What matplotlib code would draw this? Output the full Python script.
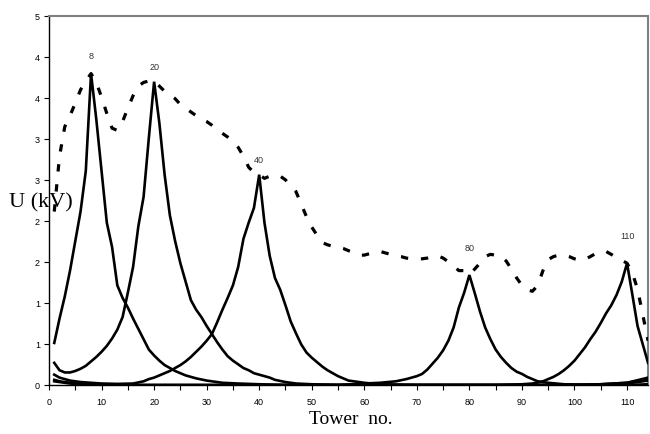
import numpy as np
import matplotlib
matplotlib.use("Agg")
import matplotlib.pyplot as plt
from matplotlib.ticker import FuncFormatter, MultipleLocator

# ---- data (tower number, voltage in kV) ----
a_t = [1, 2, 3, 4, 5, 6, 7, 8, 9, 10, 11, 12, 13, 14, 15, 16, 17, 18, 19, 20, 21, 22, 23, 24, 25, 26,
       28, 30, 33, 36, 40, 45, 60, 80, 100, 105, 110, 114]
a_v = [0.57, 0.9, 1.2, 1.55, 1.95, 2.35, 2.9, 4.22, 3.6, 2.9, 2.2, 1.87, 1.35, 1.18, 1.05, 0.9, 0.76,
       0.62, 0.48, 0.4, 0.33, 0.27, 0.23, 0.19, 0.16, 0.13, 0.09, 0.06, 0.03, 0.02, 0.01, 0.0, 0.0, 0.0,
       0.0, 0.01, 0.03, 0.08]

b_t = [1, 2, 3, 4, 5, 6, 7, 8, 9, 10, 11, 12, 13, 14, 15, 16, 17, 18, 19, 20, 21, 22, 23, 24, 25, 26,
       27, 28, 29, 30, 31, 32, 33, 34, 35, 36, 37, 38, 39, 40, 41, 42, 43, 45, 47, 50, 55, 80, 105,
       110, 114]
b_v = [0.3, 0.2, 0.17, 0.17, 0.19, 0.22, 0.26, 0.32, 0.38, 0.45, 0.53, 0.63, 0.75, 0.92, 1.25, 1.6,
       2.15, 2.55, 3.35, 4.11, 3.55, 2.85, 2.3, 1.95, 1.65, 1.4, 1.15, 1.02, 0.92, 0.8, 0.69, 0.58, 0.48,
       0.39, 0.33, 0.28, 0.23, 0.2, 0.16, 0.14, 0.12, 0.1, 0.07, 0.04, 0.02, 0.01, 0.0, 0.0, 0.0, 0.02,
       0.06]

c_t = [1, 2, 3, 4, 5, 6, 8, 10, 13, 16, 18, 19, 20, 21, 22, 23, 24, 25, 26, 27, 28, 29, 30, 31, 32, 33,
       34, 35, 36, 37, 38, 39, 40, 41, 42, 43, 44, 45, 46, 47, 48, 49, 50, 51, 52, 53, 54, 55, 56, 57,
       58, 60, 63, 70, 100, 105, 110, 114]
c_v = [0.14, 0.1, 0.08, 0.06, 0.05, 0.04, 0.03, 0.02, 0.015, 0.02, 0.05, 0.08, 0.1, 0.13, 0.16, 0.19,
       0.23, 0.27, 0.32, 0.38, 0.45, 0.52, 0.6, 0.69, 0.85, 1.02, 1.18, 1.35, 1.6, 1.98, 2.2, 2.4, 2.85,
       2.2, 1.75, 1.45, 1.29, 1.08, 0.86, 0.7, 0.55, 0.44, 0.37, 0.31, 0.25, 0.2, 0.16, 0.12, 0.09, 0.06,
       0.05, 0.03, 0.01, 0.0, 0.0, 0.01, 0.03, 0.1]

d_t = [1, 2, 3, 5, 8, 12, 55, 60, 63, 66, 68, 70, 71, 72, 73, 74, 75, 76, 77, 78, 79, 80, 81, 82, 83, 84,
       85, 86, 87, 88, 89, 90, 91, 92, 93, 95, 98, 105, 110, 114]
d_v = [0.07, 0.05, 0.04, 0.02, 0.01, 0.0, 0.0, 0.02, 0.03, 0.05, 0.08, 0.12, 0.15, 0.21, 0.29, 0.37,
       0.47, 0.6, 0.78, 1.05, 1.25, 1.49, 1.25, 1.0, 0.78, 0.62, 0.48, 0.38, 0.3, 0.23, 0.18, 0.15, 0.11,
       0.08, 0.05, 0.03, 0.01, 0.0, 0.0, 0.01]

e_t = [1, 2, 4, 8, 85, 90, 92, 94, 95, 96, 97, 98, 99, 100, 101, 102, 103, 104, 105, 106, 107, 108, 109,
       110, 111, 112, 113, 114]
e_v = [0.05, 0.04, 0.02, 0.0, 0.0, 0.01, 0.02, 0.05, 0.08, 0.11, 0.15, 0.2, 0.26, 0.33, 0.42, 0.51, 0.62,
       0.72, 0.84, 0.97, 1.08, 1.22, 1.4, 1.65, 1.23, 0.8, 0.55, 0.3]

env_t = list(range(1, 115))
env_v = [2.35, 3.1, 3.5, 3.65, 3.82, 4.0, 4.12, 4.22, 4.1, 3.9,
         3.68, 3.48, 3.45, 3.57, 3.75, 3.92, 4.05, 4.1, 4.12, 4.12,
         4.05, 3.98, 3.93, 3.88, 3.8, 3.75, 3.7, 3.65, 3.6, 3.57,
         3.52, 3.46, 3.41, 3.36, 3.3, 3.22, 3.1, 2.95, 2.88, 2.85,
         2.8, 2.83, 2.84, 2.83, 2.78, 2.7, 2.62, 2.45, 2.28, 2.14,
         2.03, 1.93, 1.9, 1.88, 1.87, 1.85, 1.82, 1.79, 1.76, 1.76,
         1.78, 1.8, 1.81, 1.79, 1.77, 1.75, 1.74, 1.72, 1.71, 1.71,
         1.71, 1.72, 1.74, 1.75, 1.72, 1.67, 1.61, 1.55, 1.55, 1.5,
         1.57, 1.65, 1.74, 1.77, 1.76, 1.75, 1.68, 1.57, 1.45, 1.35,
         1.29, 1.27, 1.35, 1.55, 1.7, 1.74, 1.76, 1.76, 1.74, 1.71,
         1.69, 1.7, 1.74, 1.78, 1.81, 1.81, 1.77, 1.73, 1.69, 1.65,
         1.52, 1.3, 0.95, 0.6]

peak_towers = [8, 20, 40, 80, 110]
peak_values = [4.22, 4.11, 2.85, 1.49, 1.65]
label_offsets_pt = [9, 7, 7, 16, 16]

y_ticks = list(np.linspace(0, 5, 10))
x_major = list(range(0, 111, 10))

# ---- figure ----
fig = plt.figure(figsize=(6.5, 4.34), dpi=100)
ax = fig.add_axes([0.0754, 0.1129, 0.9216, 0.8502])

for t, v in [(a_t, a_v), (b_t, b_v), (c_t, c_v), (d_t, d_v), (e_t, e_v)]:
    ax.plot(t, v, color="black", lw=1.9, solid_joinstyle="miter", zorder=3)
ax.plot(env_t, env_v, color="black", lw=2.3, linestyle=(0, (2.3, 4.0)), zorder=4)

for t, v, off in zip(peak_towers, peak_values, label_offsets_pt):
    ax.annotate(str(t), (t, v), xytext=(0, off), textcoords="offset points",
                ha="center", va="bottom", fontsize=6.5, color="#333333",
                family="Liberation Sans")

ax.set_xlim(0, 114)
ax.set_ylim(0, 5)
ax.set_xticks(x_major)
ax.xaxis.set_minor_locator(MultipleLocator(5))
ax.set_yticks(y_ticks)
ax.yaxis.set_major_formatter(FuncFormatter(lambda v, p: "%d" % int(np.floor(v + 0.5))))

for lab in ax.get_xticklabels() + ax.get_yticklabels():
    lab.set_fontfamily("Liberation Sans")
    lab.set_fontsize(6.5)
ax.tick_params(axis="both", which="major", direction="out", length=3.5, width=0.8, pad=3)
ax.tick_params(axis="x", which="minor", direction="out", length=3.5, width=0.8)
ax.tick_params(axis="x", pad=6)

ax.spines["left"].set_color("black")
ax.spines["bottom"].set_color("black")
ax.spines["left"].set_linewidth(1.0)
ax.spines["bottom"].set_linewidth(1.0)
ax.spines["top"].set_color("#808080")
ax.spines["right"].set_color("#808080")
ax.spines["top"].set_linewidth(1.5)
ax.spines["right"].set_linewidth(1.5)

fig.text(0.063, 1 - 203 / 434, "U (kV)", ha="center", va="center", fontsize=16,
         family="Liberation Serif")
fig.text(0.54, 1 - 420 / 434, "Tower  no.", ha="center", va="center", fontsize=14,
         family="Liberation Serif")

fig.savefig("out.png", dpi=100)
